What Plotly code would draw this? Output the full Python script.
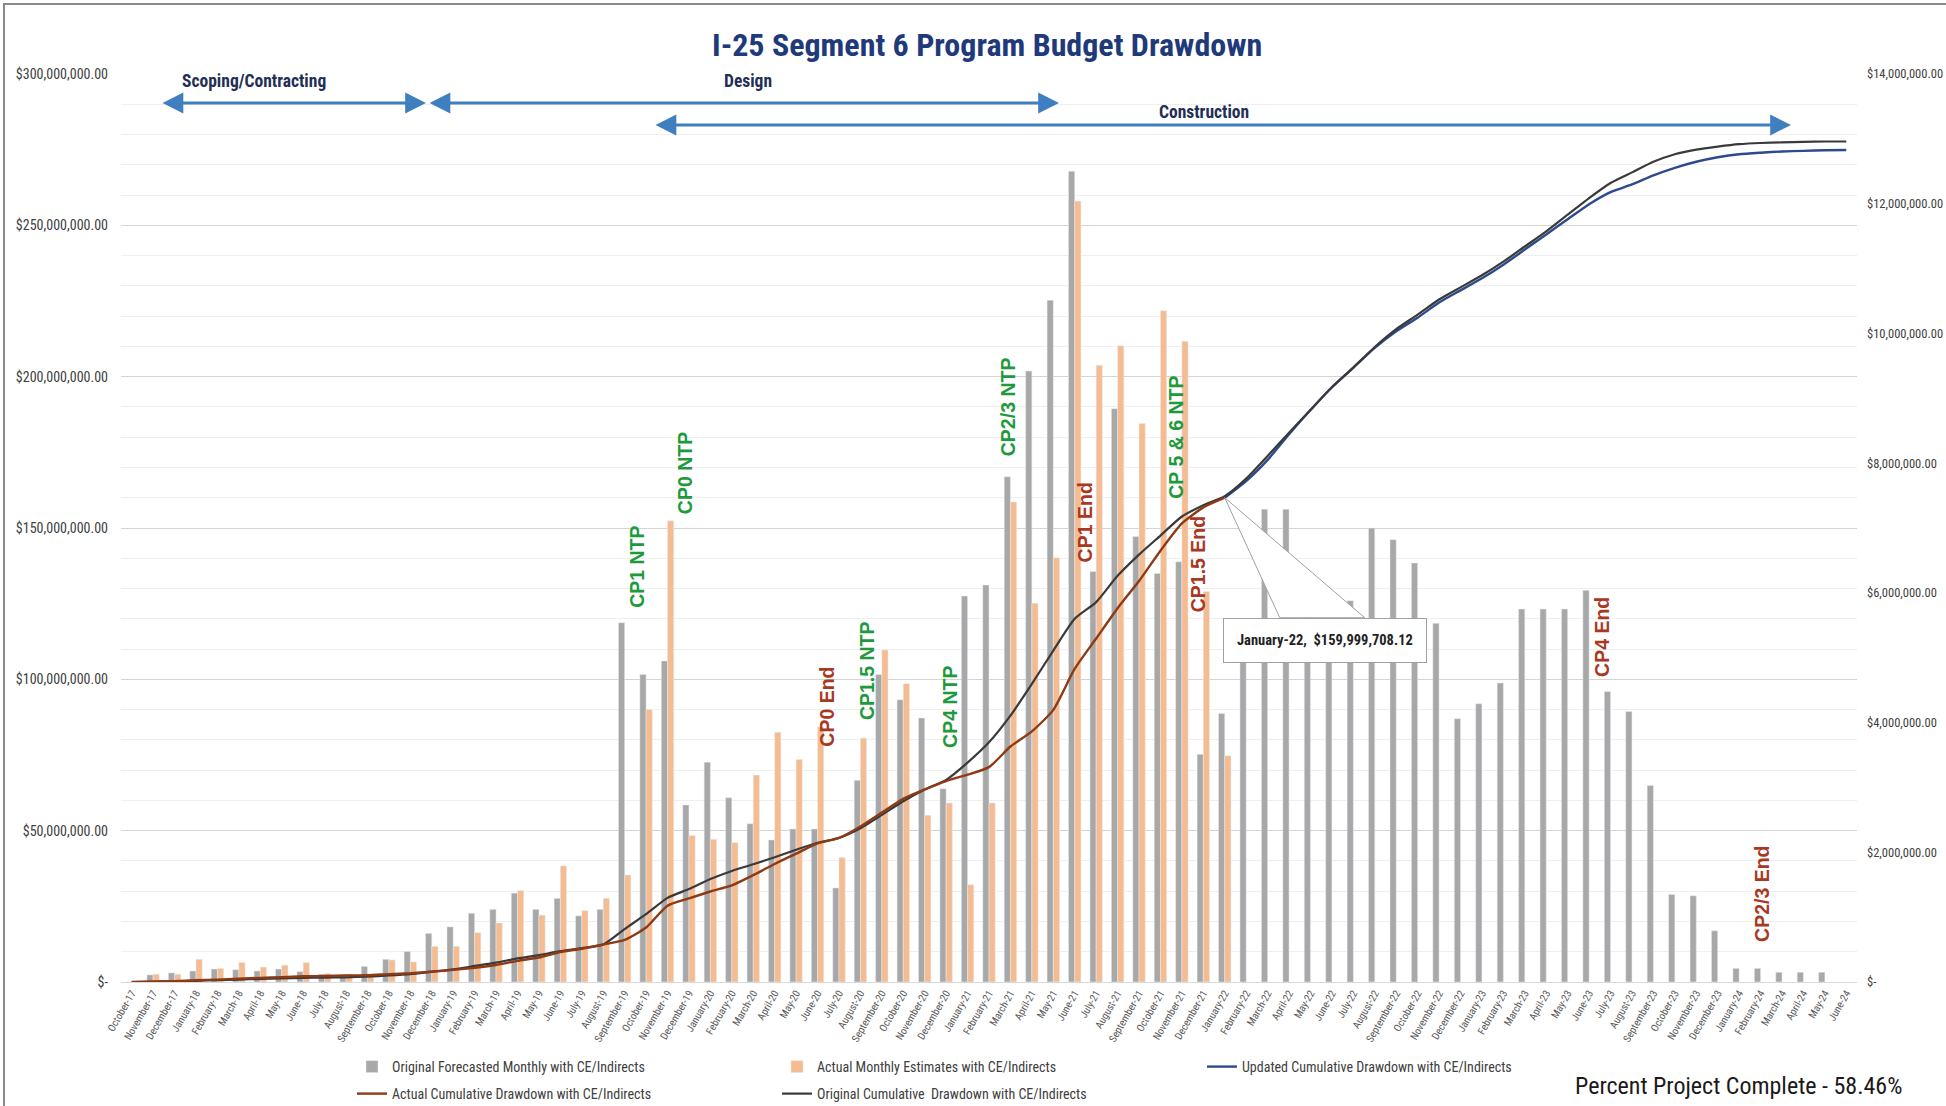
import plotly.graph_objects as go

# ---------------- data ----------------
months = [
    "October-17", "November-17", "December-17",
    "January-18", "February-18", "March-18", "April-18", "May-18", "June-18",
    "July-18", "August-18", "September-18", "October-18", "November-18", "December-18",
    "January-19", "February-19", "March-19", "April-19", "May-19", "June-19",
    "July-19", "August-19", "September-19", "October-19", "November-19", "December-19",
    "January-20", "February-20", "March-20", "April-20", "May-20", "June-20",
    "July-20", "August-20", "September-20", "October-20", "November-20", "December-20",
    "January-21", "February-21", "March-21", "April-21", "May-21", "June-21",
    "July-21", "August-21", "September-21", "October-21", "November-21", "December-21",
    "January-22", "February-22", "March-22", "April-22", "May-22", "June-22",
    "July-22", "August-22", "September-22", "October-22", "November-22", "December-22",
    "January-23", "February-23", "March-23", "April-23", "May-23", "June-23",
    "July-23", "August-23", "September-23", "October-23", "November-23", "December-23",
    "January-24", "February-24", "March-24", "April-24", "May-24", "June-24",
]

# monthly values, $ millions (right axis)
original_monthly = [
    0, 0.11, 0.14, 0.17, 0.20, 0.19, 0.17, 0.20, 0.16, 0.12, 0.11, 0.24,
    0.35, 0.47, 0.75, 0.85, 1.06, 1.12, 1.37, 1.12, 1.29, 1.02, 1.12, 5.54,
    4.74, 4.95, 2.73, 3.39, 2.84, 2.44, 2.19, 2.36, 2.36, 1.45, 3.11, 4.74,
    4.35, 4.07, 2.98, 5.95, 6.12, 7.79, 9.42, 10.51, 12.50, 6.33, 8.84, 6.87,
    6.30, 6.48, 3.51, 4.14, 5.40, 7.29, 7.29, 6.20, 5.88, 5.88, 7.00, 6.82,
    6.46, 5.53, 4.06, 4.29, 4.61, 5.75, 5.75, 5.75, 6.04, 4.48, 4.17, 3.03,
    1.35, 1.33, 0.79, 0.21, 0.21, 0.15, 0.15, 0.15, None,
]
actual_monthly = [
    0, 0.12, 0.12, 0.35, 0.21, 0.30, 0.23, 0.26, 0.30, 0.13, 0.12, 0.09,
    0.34, 0.31, 0.55, 0.55, 0.76, 0.91, 1.41, 1.03, 1.79, 1.10, 1.29, 1.65,
    4.20, 7.11, 2.26, 2.20, 2.15, 3.19, 3.85, 3.43, 3.93, 1.92, 3.76, 5.12,
    4.60, 2.57, 2.76, 1.50, 2.76, 7.40, 5.84, 6.54, 12.04, 9.51, 9.81, 8.61,
    10.35, 9.88, 6.02, 3.49,
]

# cumulative values, $ millions (left axis)
actual_cumulative = [
    0, 0.1, 0.25, 0.6, 0.8, 1.1, 1.35, 1.6, 1.9, 2.0, 2.15, 2.25,
    2.6, 2.9, 3.4, 4.0, 4.7, 5.6, 7.0, 8.1, 9.9, 11.0, 12.4, 13.9,
    18.0, 25.2, 27.6, 29.9, 31.9, 35.3, 39.0, 42.4, 45.8, 47.6, 51.4, 56.0,
    60.5, 63.6, 66.4, 68.5, 71.0, 77.8, 82.8, 89.9, 103.5, 113.5, 123.5, 132.5,
    142.5, 151.5, 156.8, 160.0,
]
original_cumulative = [
    0, 0.1, 0.25, 0.4, 0.6, 0.8, 1.0, 1.2, 1.35, 1.45, 1.55, 1.8,
    2.15, 2.6, 3.4, 4.2, 5.3, 6.4, 7.8, 8.9, 10.2, 11.2, 12.4, 17.5,
    22.4, 27.8, 30.7, 34.0, 36.7, 38.9, 41.2, 43.7, 46.0, 47.6, 50.8, 55.2,
    59.7, 63.6, 66.8, 72.5, 79.2, 88.0, 98.5, 109.5, 120.0, 125.5, 134.2, 141.2,
    147.5, 153.8, 157.5, 160.5, 166.3, 173.8, 181.5, 189.0, 196.5, 203.0, 209.8, 215.7,
    220.5, 225.5, 229.5, 233.5, 238.0, 243.0, 248.0, 253.5, 259.0, 264.0, 267.5, 271.0,
    273.5, 275.0, 276.0, 276.8, 277.2, 277.4, 277.6, 277.7, 277.7,
]
updated_start = 51  # January-22
updated_cumulative = [
    160.0, 165.5, 172.5, 181.0, 189.0, 196.5, 203.0, 209.5, 215.0, 219.5,
    224.5, 228.5, 232.5, 237.0, 242.0, 247.0, 252.0, 257.0, 261.0, 263.5,
    266.5, 269.0, 271.0, 272.5, 273.5, 274.0, 274.4, 274.6, 274.8, 274.9,
]

left_ticks = [0, 50, 100, 150, 200, 250, 300]
left_labels = ["$-", "$50,000,000.00", "$100,000,000.00", "$150,000,000.00",
               "$200,000,000.00", "$250,000,000.00", "$300,000,000.00"]
right_ticks = [0, 2, 4, 6, 8, 10, 12, 14]
right_labels = ["$-", "$2,000,000.00", "$4,000,000.00", "$6,000,000.00", "$8,000,000.00",
                "$10,000,000.00", "$12,000,000.00", "$14,000,000.00"]

# milestone labels: text, category position, left-axis value, colour
milestones = [
    ("CP1 NTP", 23.6, 137, "#1E9A3C"),
    ("CP0 NTP", 25.8, 168, "#1E9A3C"),
    ("CP0 End", 32.4, 91, "#A8381E"),
    ("CP1.5 NTP", 34.3, 103, "#1E9A3C"),
    ("CP4 NTP", 38.15, 91, "#1E9A3C"),
    ("CP2/3 NTP", 40.9, 190, "#1E9A3C"),
    ("CP1 End", 44.5, 152, "#A8381E"),
    ("CP 5 & 6 NTP", 48.75, 180, "#1E9A3C"),
    ("CP1.5 End", 49.75, 138, "#A8381E"),
    ("CP4 End", 68.6, 114, "#A8381E"),
    ("CP2/3 End", 76.1, 29, "#A8381E"),
]

# phase arrows: label, start px, end px, y px, label x px, label y px
phases = [
    ("Scoping/Contracting", 161, 426, 103, 254, 81),
    ("Design", 428, 1059, 103, 748, 81),
    ("Construction", 654, 1791, 125, 1204, 112),
]

# ---------------- layout geometry ----------------
W, H = 1946, 1106
L, R, T, B = 121, 89, 74, 124
PW, PH = W - L - R, H - T - B


def px(x):
    return (x - L) / PW


def py(y):
    return (H - B - y) / PH


FONT = "Liberation Sans Narrow, Roboto Condensed, Lato, sans-serif"
FONT_W = "Liberation Sans, Arial, sans-serif"

GRAY = "#A8A8A8"
ORANGE = "#F5BC91"
BROWN = "#8E3A14"
DARK = "#3A3A3A"
BLUE = "#2C4A8C"

fig = go.Figure()

fig.add_trace(go.Bar(
    x=months, y=original_monthly, name="Original Forecasted Monthly with CE/Indirects",
    marker_color=GRAY, yaxis="y", legend="legend",
))
fig.add_trace(go.Bar(
    x=months[:len(actual_monthly)], y=actual_monthly,
    name="Actual Monthly Estimates with CE/Indirects",
    marker_color=ORANGE, yaxis="y", legend="legend",
))
fig.add_trace(go.Scatter(
    x=months[updated_start:updated_start + len(updated_cumulative)], y=updated_cumulative,
    name="Updated Cumulative Drawdown with CE/Indirects", mode="lines",
    line=dict(color=BLUE, width=2.4, shape="spline", smoothing=0.6), yaxis="y2",
    legend="legend",
))
fig.add_trace(go.Scatter(
    x=months[:len(original_cumulative)], y=original_cumulative,
    name="Original Cumulative  Drawdown with CE/Indirects", mode="lines",
    line=dict(color=DARK, width=2.2, shape="spline", smoothing=0.6), yaxis="y2",
    legend="legend2", legendrank=2,
))
fig.add_trace(go.Scatter(
    x=months[:len(actual_cumulative)], y=actual_cumulative,
    name="Actual Cumulative Drawdown with CE/Indirects", mode="lines",
    line=dict(color=BROWN, width=2.4, shape="spline", smoothing=0.6), yaxis="y2",
    legend="legend2", legendrank=1,
))

annotations = []
shapes = []

for text, xc, yv, col in milestones:
    annotations.append(dict(
        x=xc, y=yv, xref="x", yref="y2", text=f"<b>{text}</b>", showarrow=False,
        textangle=-90, xanchor="center", yanchor="middle",
        font=dict(family=FONT_W, size=19.5, color=col),
    ))

for label, x0, x1, yy, lx, ly in phases:
    annotations.append(dict(
        x=px(x1), y=py(yy), xref="paper", yref="paper", ax=-(x1 - x0), ay=0,
        axref="pixel", ayref="pixel", text="", showarrow=True,
        arrowhead=2, startarrowhead=2, arrowside="end+start", arrowsize=1.3,
        startarrowsize=1.3, arrowwidth=3.2, arrowcolor="#3F7FC0",
    ))
    annotations.append(dict(
        x=px(lx), y=py(ly), xref="paper", yref="paper", text=f"<b>{label}</b>",
        showarrow=False, xanchor="center", yanchor="middle",
        font=dict(family=FONT, size=17.5, color="#1F2F55"),
    ))

# title
annotations.append(dict(
    x=px(987), y=py(45), xref="paper", yref="paper",
    text="<b>I-25 Segment 6 Program Budget Drawdown</b>", showarrow=False,
    xanchor="center", yanchor="middle",
    font=dict(family=FONT, size=32, color="#1F3A7A"),
))

# data callout: white wedge from the point to the box, then the box itself
jan = months.index("January-22")
shapes.append(dict(
    type="path", xref="x", yref="y2", xsizemode="pixel", ysizemode="pixel",
    xanchor=jan, yanchor=actual_cumulative[jan],
    path="M 0,0 L 55,-120 L 140,-120 Z",
    line=dict(color="#A0A0A0", width=1), fillcolor="white", layer="above",
))
annotations.append(dict(
    x=months[jan], y=actual_cumulative[jan], xref="x", yref="y2",
    text="<b>January-22,  $159,999,708.12</b>", showarrow=True, arrowhead=0,
    arrowcolor="rgba(0,0,0,0)", arrowwidth=1, ax=100, ay=143,
    bgcolor="white", bordercolor="#A0A0A0", borderwidth=1, borderpad=13,
    font=dict(family=FONT, size=14.5, color="#222222"),
))

annotations.append(dict(
    x=px(1738), y=py(1086), xref="paper", yref="paper",
    text="Percent Project Complete - 58.46%", showarrow=False,
    xanchor="center", yanchor="middle",
    font=dict(family=FONT, size=24, color="#1A1A1A"),
))

# chart-area border (only top/left edges visible in frame)
shapes.append(dict(
    type="rect", xref="paper", yref="paper",
    x0=px(4), x1=px(W + 10), y0=py(4), y1=py(H + 10),
    line=dict(color="#8A8A8A", width=2), fillcolor="rgba(0,0,0,0)", layer="below",
))

legend_common = dict(
    orientation="h", x=px(352), xanchor="left", yanchor="top",
    entrywidth=380, entrywidthmode="pixels", traceorder="normal",
    font=dict(family=FONT, size=14, color="#404040"),
    bgcolor="rgba(0,0,0,0)",
)

fig.update_layout(
    width=W, height=H,
    margin=dict(l=L, r=R, t=T, b=B, autoexpand=False),
    paper_bgcolor="white", plot_bgcolor="white",
    barmode="group", bargap=0.42, bargroupgap=0.0,
    font=dict(family=FONT, size=14, color="#404040"),
    xaxis=dict(
        type="category", tickangle=-60, tickfont=dict(size=10.5, color="#595959"),
        showgrid=False, showline=True, linecolor="#D9D9D9", ticks="",
        range=[-0.5, len(months) - 0.5],
    ),
    yaxis=dict(
        side="right", range=[0, 14], tickvals=right_ticks, ticktext=right_labels,
        showgrid=False, zeroline=False, tickfont=dict(size=12.5, color="#404040"),
        ticklabelstandoff=9,
    ),
    yaxis2=dict(
        side="left", overlaying="y", range=[0, 300], tickvals=left_ticks, ticktext=left_labels,
        showgrid=True, gridcolor="#D4D4D4", gridwidth=1.4, zeroline=False,
        minor=dict(dtick=10, showgrid=True, gridcolor="#EFEFEF", gridwidth=1),
        tickfont=dict(size=14, color="#404040"), ticklabelstandoff=12,
    ),
    legend=dict(legend_common, y=py(1051)),
    legend2=dict(legend_common, y=py(1078)),
    showlegend=True,
    annotations=annotations,
    shapes=shapes,
)

fig.write_html("out.html", config={"displayModeBar": False},
               post_script="document.body.style.margin='0';")
